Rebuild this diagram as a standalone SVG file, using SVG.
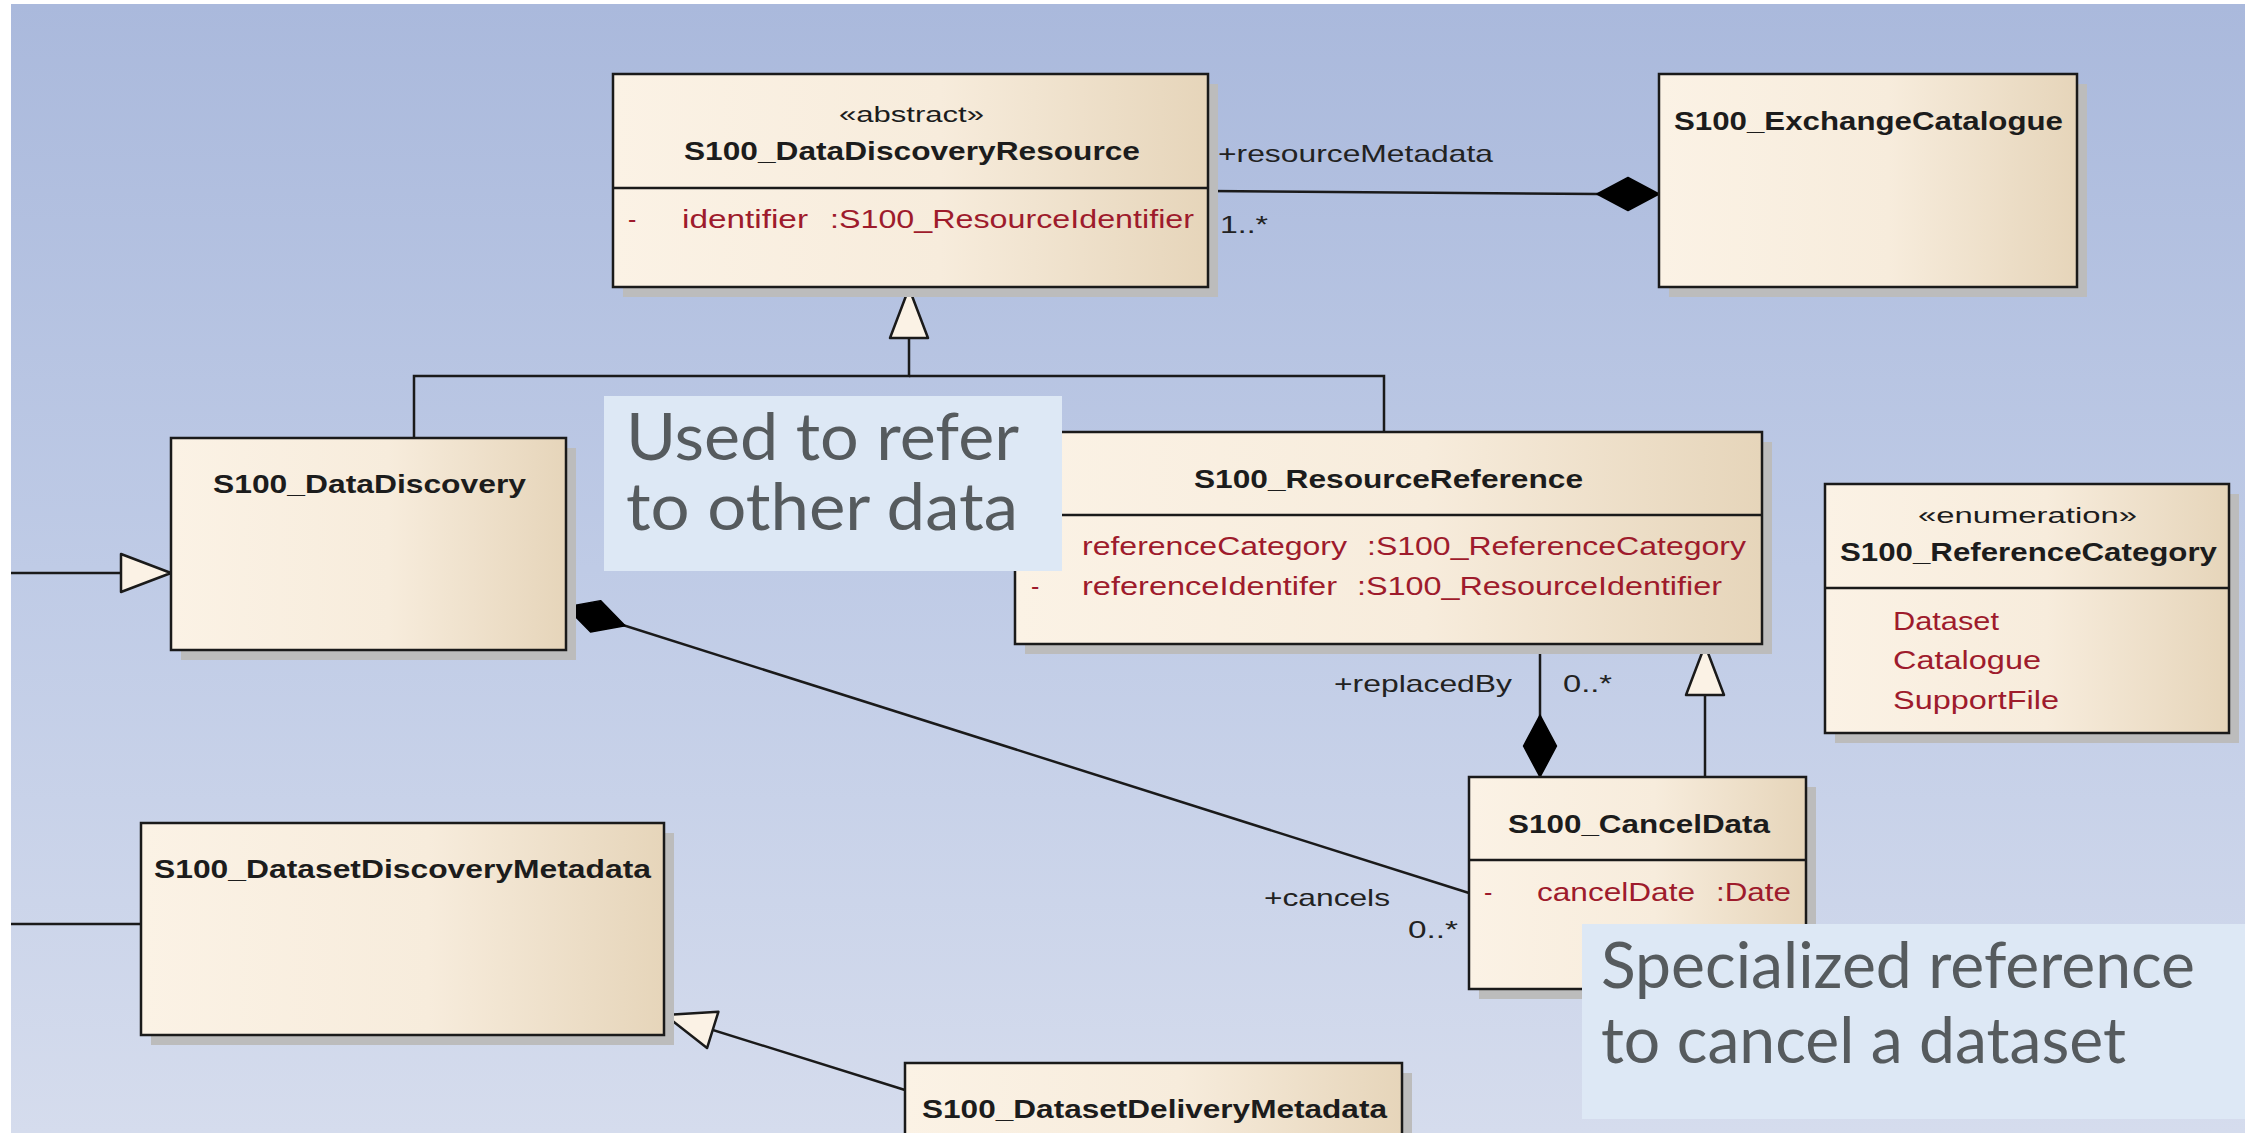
<svg xmlns="http://www.w3.org/2000/svg" width="2245" height="1133" viewBox="0 0 2245 1133">
  <defs>
    <linearGradient id="bg" x1="0" y1="0" x2="0" y2="1">
      <stop offset="0" stop-color="#aab9dc"/>
      <stop offset="0.5" stop-color="#bfcbe6"/>
      <stop offset="1" stop-color="#d5dced"/>
    </linearGradient>
    <linearGradient id="cls" x1="0" y1="0" x2="1" y2="0">
      <stop offset="0" stop-color="#fbf2e5"/>
      <stop offset="0.55" stop-color="#f7ecdc"/>
      <stop offset="1" stop-color="#e6d5ba"/>
    </linearGradient>
    <!-- filled diamond: composition, tip sits on the whole end -->
    <marker id="diamond" markerUnits="userSpaceOnUse" orient="auto" overflow="visible" refX="0" refY="0" markerWidth="1" markerHeight="1">
      <path d="M0,0 L-31,-16.5 L-62,0 L-31,16.5 Z" fill="#000" stroke="#000" stroke-width="1.5" stroke-linejoin="round"/>
    </marker>
    <!-- hollow triangle: generalization -->
    <marker id="gen" markerUnits="userSpaceOnUse" orient="auto" overflow="visible" refX="0" refY="0" markerWidth="1" markerHeight="1">
      <path d="M0,0 L-50,-19 L-50,19 Z" fill="#fbf2e5" stroke="#1a1a1a" stroke-width="2.5" stroke-linejoin="round"/>
    </marker>
    <style>
      .box { fill: url(#cls); stroke: #1a1a1a; stroke-width: 2.5; }
      .shadow { fill: #bcbcbc; }
      .div { stroke: #1a1a1a; stroke-width: 2.5; }
      .name { font-family: "Liberation Sans", Arial, sans-serif; font-weight: bold; font-size: 26px; fill: #1c1c1c; }
      .stereo { font-family: "Liberation Sans", Arial, sans-serif; font-size: 22px; fill: #1c1c1c; }
      .attr { font-family: "Liberation Sans", Arial, sans-serif; font-size: 25px; fill: #9e1b2c; }
      .lbl { font-family: "Liberation Sans", Arial, sans-serif; font-size: 24px; fill: #222; }
      .conn { fill: none; stroke: #1a1a1a; stroke-width: 2.5; }
      .note { fill: #dde8f5; }
      .notetxt { font-family: Lato, "Open Sans", sans-serif; fill: #565b5e; }
    </style>
  </defs>

  <!-- canvas -->
  <rect x="0" y="0" width="2245" height="1133" fill="#ffffff"/>
  <rect x="11" y="4" width="2234" height="1129" fill="url(#bg)"/>

  <!-- connectors -->
  <g id="connectors">
    <!-- S100_ExchangeCatalogue composes S100_DataDiscoveryResource -->
    <path class="conn" d="M1208,191 L1598,194 L1659,194" marker-end="url(#diamond)"/>
    <text class="lbl" x="1218" y="162" textLength="275" lengthAdjust="spacingAndGlyphs">+resourceMetadata</text>
    <text class="lbl" x="1220" y="233" textLength="48" lengthAdjust="spacingAndGlyphs">1..*</text>

    <!-- generalization tree to S100_DataDiscoveryResource -->
    <path class="conn" d="M414,438 V376 H909 V288" marker-end="url(#gen)"/>
    <path class="conn" d="M1384,432 V376 H909"/>

    <!-- replacedBy composition -->
    <path class="conn" d="M1540,644 V777" marker-end="url(#diamond)"/>
    <text class="lbl" x="1334" y="692" textLength="178" lengthAdjust="spacingAndGlyphs">+replacedBy</text>
    <text class="lbl" x="1563" y="692" textLength="49" lengthAdjust="spacingAndGlyphs">0..*</text>

    <!-- S100_CancelData specializes S100_ResourceReference -->
    <path class="conn" d="M1705,777 V645" marker-end="url(#gen)"/>

    <!-- cancels composition -->
    <path class="conn" d="M1469,893 L566,607" marker-end="url(#diamond)"/>
    <text class="lbl" x="1264" y="906" textLength="126" lengthAdjust="spacingAndGlyphs">+cancels</text>
    <text class="lbl" x="1408" y="938" textLength="50" lengthAdjust="spacingAndGlyphs">0..*</text>

    <!-- incoming from the left -->
    <path class="conn" d="M11,573 H171" marker-end="url(#gen)"/>
    <path class="conn" d="M11,924 H141"/>

    <!-- S100_DatasetDeliveryMetadata specializes S100_DatasetDiscoveryMetadata -->
    <path class="conn" d="M905,1090 L665,1015" marker-end="url(#gen)"/>
  </g>

  <!-- classes -->
  <g id="S100_DataDiscoveryResource">
    <rect class="shadow" x="623" y="84" width="595" height="213"/>
    <rect class="box" x="613" y="74" width="595" height="213"/>
    <line class="div" x1="613" y1="188" x2="1208" y2="188"/>
    <text class="stereo" x="839" y="122" textLength="145" lengthAdjust="spacingAndGlyphs">«abstract»</text>
    <text class="name" x="684" y="160" textLength="456" lengthAdjust="spacingAndGlyphs">S100_DataDiscoveryResource</text>
    <text class="attr" x="628" y="228">-</text>
    <text class="attr" x="682" y="228" textLength="126" lengthAdjust="spacingAndGlyphs">identifier</text>
    <text class="attr" x="830" y="228" textLength="364" lengthAdjust="spacingAndGlyphs">:S100_ResourceIdentifier</text>
  </g>

  <g id="S100_ExchangeCatalogue">
    <rect class="shadow" x="1669" y="84" width="418" height="213"/>
    <rect class="box" x="1659" y="74" width="418" height="213"/>
    <text class="name" x="1674" y="130" textLength="389" lengthAdjust="spacingAndGlyphs">S100_ExchangeCatalogue</text>
  </g>

  <g id="S100_DataDiscovery">
    <rect class="shadow" x="181" y="448" width="395" height="212"/>
    <rect class="box" x="171" y="438" width="395" height="212"/>
    <text class="name" x="213" y="493" textLength="313" lengthAdjust="spacingAndGlyphs">S100_DataDiscovery</text>
  </g>

  <g id="S100_ResourceReference">
    <rect class="shadow" x="1025" y="442" width="747" height="212"/>
    <rect class="box" x="1015" y="432" width="747" height="212"/>
    <line class="div" x1="1015" y1="515" x2="1762" y2="515"/>
    <text class="name" x="1194" y="488" textLength="389" lengthAdjust="spacingAndGlyphs">S100_ResourceReference</text>
    <text class="attr" x="1031" y="555">-</text>
    <text class="attr" x="1082" y="555" textLength="265" lengthAdjust="spacingAndGlyphs">referenceCategory</text>
    <text class="attr" x="1367" y="555" textLength="379" lengthAdjust="spacingAndGlyphs">:S100_ReferenceCategory</text>
    <text class="attr" x="1031" y="595">-</text>
    <text class="attr" x="1082" y="595" textLength="255" lengthAdjust="spacingAndGlyphs">referenceIdentifer</text>
    <text class="attr" x="1357" y="595" textLength="365" lengthAdjust="spacingAndGlyphs">:S100_ResourceIdentifier</text>
  </g>

  <g id="S100_CancelData">
    <rect class="shadow" x="1479" y="787" width="337" height="212"/>
    <rect class="box" x="1469" y="777" width="337" height="212"/>
    <line class="div" x1="1469" y1="860" x2="1806" y2="860"/>
    <text class="name" x="1508" y="833" textLength="262" lengthAdjust="spacingAndGlyphs">S100_CancelData</text>
    <text class="attr" x="1484" y="901">-</text>
    <text class="attr" x="1537" y="901" textLength="158" lengthAdjust="spacingAndGlyphs">cancelDate</text>
    <text class="attr" x="1716" y="901" textLength="75" lengthAdjust="spacingAndGlyphs">:Date</text>
  </g>

  <g id="S100_ReferenceCategory">
    <rect class="shadow" x="1835" y="494" width="404" height="249"/>
    <rect class="box" x="1825" y="484" width="404" height="249"/>
    <line class="div" x1="1825" y1="588" x2="2229" y2="588"/>
    <text class="stereo" x="1918" y="523" textLength="219" lengthAdjust="spacingAndGlyphs">«enumeration»</text>
    <text class="name" x="1840" y="561" textLength="377" lengthAdjust="spacingAndGlyphs">S100_ReferenceCategory</text>
    <text class="attr" x="1893" y="630" textLength="106" lengthAdjust="spacingAndGlyphs">Dataset</text>
    <text class="attr" x="1893" y="669" textLength="148" lengthAdjust="spacingAndGlyphs">Catalogue</text>
    <text class="attr" x="1893" y="709" textLength="166" lengthAdjust="spacingAndGlyphs">SupportFile</text>
  </g>

  <g id="S100_DatasetDiscoveryMetadata">
    <rect class="shadow" x="151" y="833" width="523" height="212"/>
    <rect class="box" x="141" y="823" width="523" height="212"/>
    <text class="name" x="154" y="878" textLength="497" lengthAdjust="spacingAndGlyphs">S100_DatasetDiscoveryMetadata</text>
  </g>

  <g id="S100_DatasetDeliveryMetadata">
    <rect class="shadow" x="915" y="1073" width="497" height="120"/>
    <rect class="box" x="905" y="1063" width="497" height="120"/>
    <text class="name" x="922" y="1118" textLength="465" lengthAdjust="spacingAndGlyphs">S100_DatasetDeliveryMetadata</text>
  </g>

  <!-- callouts -->
  <g id="note-refer">
    <rect class="note" x="604" y="396" width="458" height="175"/>
    <text class="notetxt" x="626" y="460" font-size="66" textLength="393" lengthAdjust="spacingAndGlyphs">Used to refer</text>
    <text class="notetxt" x="626" y="530" font-size="66" textLength="392" lengthAdjust="spacingAndGlyphs">to other data</text>
  </g>

  <g id="note-cancel">
    <rect class="note" x="1582" y="924" width="663" height="195"/>
    <text class="notetxt" x="1601" y="988" font-size="63" textLength="594" lengthAdjust="spacingAndGlyphs">Specialized reference</text>
    <text class="notetxt" x="1601" y="1063" font-size="63" textLength="525" lengthAdjust="spacingAndGlyphs">to cancel a dataset</text>
  </g>
</svg>
